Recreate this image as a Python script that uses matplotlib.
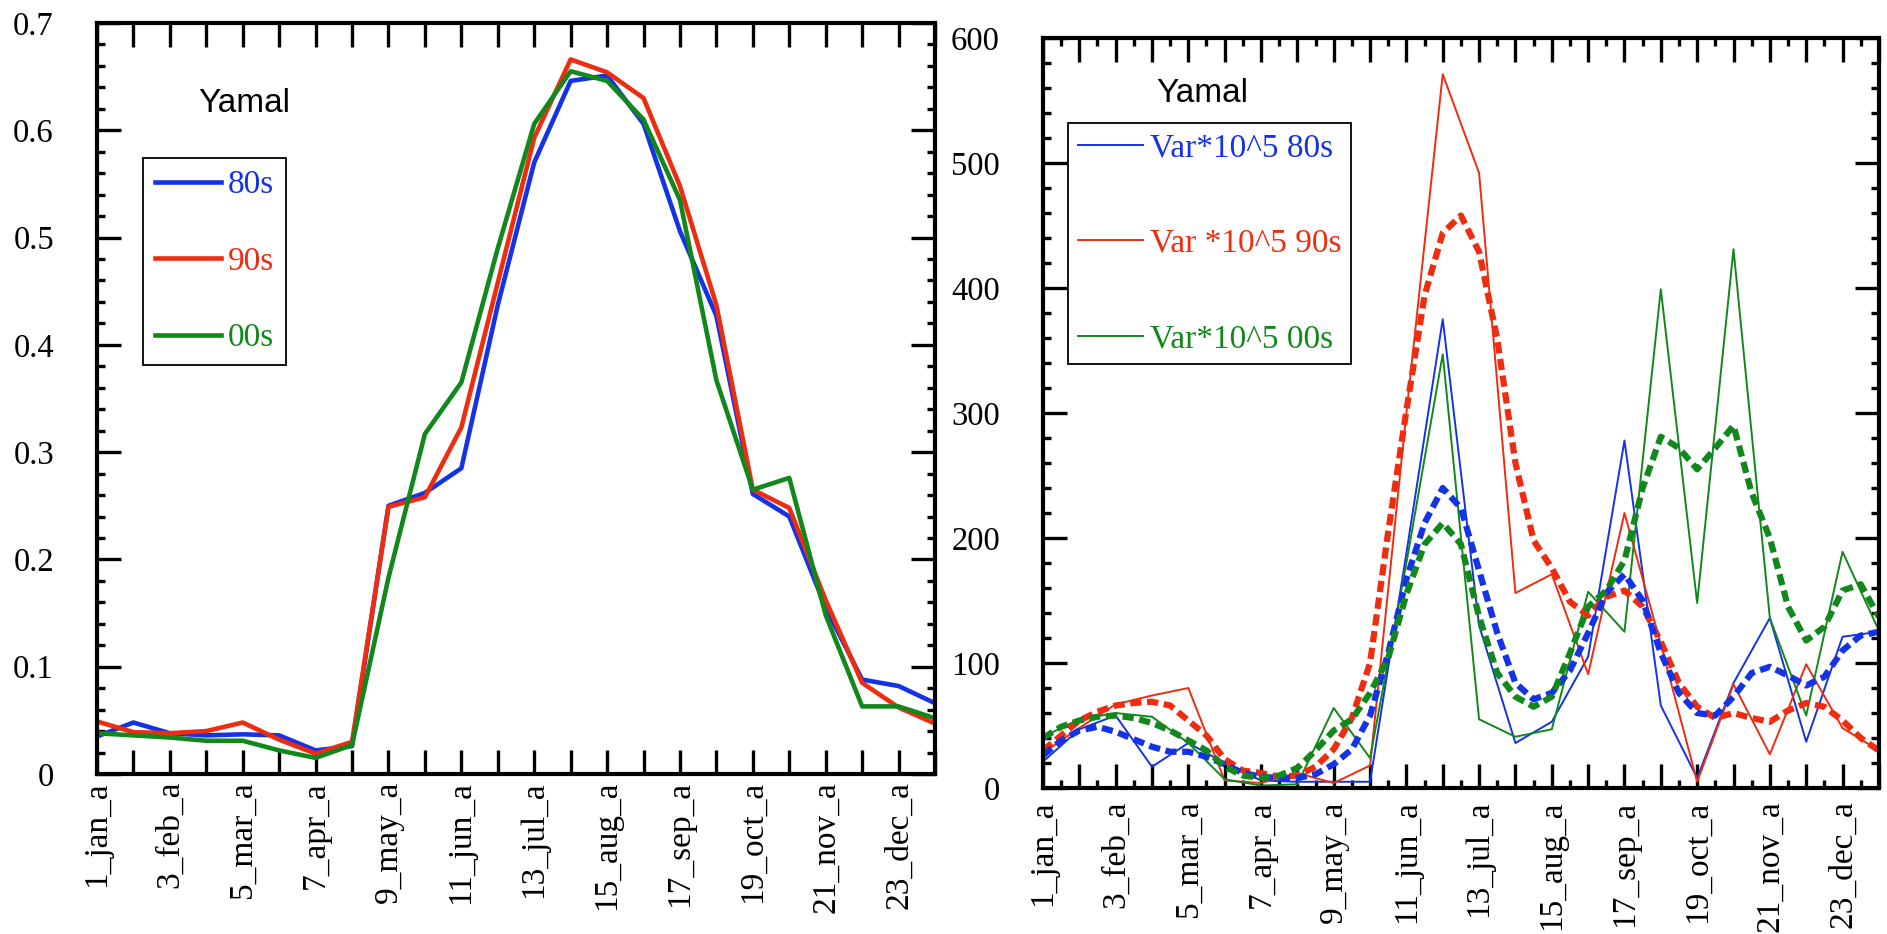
import numpy as np
import matplotlib.pyplot as plt
from matplotlib.ticker import MultipleLocator, FuncFormatter

# half-month steps (24 of them), only the odd ones get a label
steps = np.arange(1, 25)
step_labels = ['1_jan_a', '3_feb_a', '5_mar_a', '7_apr_a', '9_may_a', '11_jun_a',
               '13_jul_a', '15_aug_a', '17_sep_a', '19_oct_a', '21_nov_a', '23_dec_a']

# left panel: mean values per decade
mean_80s = [0.035, 0.048, 0.038, 0.036, 0.037, 0.036, 0.022, 0.026, 0.250, 0.262, 0.285, 0.437,
            0.570, 0.646, 0.651, 0.606, 0.506, 0.427, 0.261, 0.240, 0.155, 0.088, 0.082, 0.066]
mean_90s = [0.049, 0.039, 0.038, 0.040, 0.048, 0.032, 0.019, 0.030, 0.249, 0.258, 0.323, 0.458,
            0.593, 0.666, 0.654, 0.630, 0.548, 0.437, 0.265, 0.248, 0.162, 0.085, 0.062, 0.047]
mean_00s = [0.038, 0.036, 0.034, 0.031, 0.031, 0.022, 0.015, 0.027, 0.183, 0.317, 0.365, 0.490,
            0.606, 0.655, 0.646, 0.610, 0.535, 0.367, 0.265, 0.276, 0.148, 0.063, 0.063, 0.052]

# right panel: variance * 10^5
var_80s = [21, 47, 58, 17, 36, 20, 6, 5, 5, 5, 188, 375,
           130, 36, 53, 105, 278, 66, 8, 84, 136, 37, 121, 125]
var_90s = [28, 48, 67, 74, 80, 6, 4, 12, 4, 18, 300, 571,
           492, 156, 171, 91, 220, 115, 5, 83, 27, 99, 48, 30]
var_00s = [41, 55, 60, 57, 36, 7, 2, 3, 64, 24, 180, 347,
           55, 41, 47, 157, 125, 399, 148, 431, 136, 58, 189, 126]

smooth_steps = np.arange(1, 24.5, 0.5)
var_80s_smooth = [26, 38, 46, 49, 45, 39, 33, 29, 29, 25, 19, 12, 9, 8, 8, 11, 19, 31, 58, 108,
                  167, 212, 240, 224, 174, 124, 84, 71, 76, 94, 124, 156, 171, 150, 108, 76,
                  60, 58, 73, 92, 97, 90, 82, 89, 110, 122, 125]
var_90s_smooth = [30, 42, 54, 61, 66, 68, 69, 66, 54, 42, 23, 14, 12, 9, 10, 17, 31, 56, 100, 205,
                  302, 394, 444, 458, 429, 359, 260, 198, 176, 149, 138, 153, 158, 145, 117, 84,
                  65, 56, 60, 56, 53, 62, 68, 65, 54, 40, 30]
var_00s_smooth = [40, 49, 54, 57, 58, 56, 52, 46, 38, 30, 17, 10, 8, 10, 16, 30, 46, 55, 76, 104,
                  155, 195, 212, 195, 137, 92, 73, 65, 73, 108, 145, 158, 182, 240, 281, 272,
                  255, 272, 290, 236, 200, 145, 118, 129, 158, 163, 137]

blue, red, green = '#1432e6', '#ee2c10', '#12881c'

plt.rcParams['font.family'] = 'Liberation Serif'
plt.rcParams['font.size'] = 24

fig = plt.figure(figsize=(18.87, 9.34), dpi=100)
ax1 = fig.add_axes([0.0514, 0.1713, 0.4441, 0.8041])
ax2 = fig.add_axes([0.5527, 0.1563, 0.4430, 0.8030])


def style_axes(ax, ymax, ymajor, yminor, xminor, xpad):
    ax.set_xlim(1, 24)
    ax.set_ylim(0, ymax)
    ax.set_xticks(steps)
    ax.set_xticklabels([step_labels[(s - 1) // 2] if s % 2 else '' for s in steps],
                       rotation=90, fontsize=24)
    ax.yaxis.set_major_locator(MultipleLocator(ymajor))
    ax.yaxis.set_minor_locator(MultipleLocator(yminor))
    ax.yaxis.set_major_formatter(FuncFormatter(lambda v, _: f'{v:g}'))
    if xminor:
        ax.xaxis.set_minor_locator(MultipleLocator(0.5))
    ax.tick_params(which='both', direction='in', top=True, right=True, width=2.4)
    ax.tick_params(which='major', length=17)
    ax.tick_params(which='minor', length=6)
    ax.tick_params(axis='y', pad=31, labelsize=23.5)
    ax.tick_params(axis='x', pad=xpad)
    for sp in ax.spines.values():
        sp.set_linewidth(3)


# Left panel
ax1.plot(steps, mean_80s, color=blue, lw=3.3, label='80s')
ax1.plot(steps, mean_90s, color=red, lw=3.3, label='90s')
ax1.plot(steps, mean_00s, color=green, lw=3.3, label='00s')
style_axes(ax1, 0.7, 0.1, 0.02, False, 5)
ax1.text(0.1205, 0.8815, 'Yamal', transform=ax1.transAxes, family='Liberation Sans',
         ha='left', va='baseline')
leg1 = ax1.legend(loc='upper left', bbox_to_anchor=(0.0549, 0.820), borderaxespad=0,
                  handlelength=2.0, handletextpad=0.2, labelspacing=1.38, borderpad=0.35,
                  fancybox=False, edgecolor='black', framealpha=1, labelcolor='linecolor')
leg1.get_frame().set_linewidth(1.3)

# Right panel
h1, = ax2.plot(steps, var_80s, color=blue, lw=1.4, label='Var*10^5 80s')
h2, = ax2.plot(steps, var_90s, color=red, lw=1.4, label='Var *10^5 90s')
h3, = ax2.plot(steps, var_00s, color=green, lw=1.4, label='Var*10^5 00s')
dots = (0, (1.8, 0.9))
ax2.plot(smooth_steps, var_90s_smooth, color=red, lw=4.5, ls=dots)
ax2.plot(smooth_steps, var_80s_smooth, color=blue, lw=4.5, ls=dots)
ax2.plot(smooth_steps, var_00s_smooth, color=green, lw=4.5, ls=dots)
style_axes(ax2, 600, 100, 20, True, 9)
ax2.text(0.135, 0.9147, 'Yamal', transform=ax2.transAxes, family='Liberation Sans',
         ha='left', va='baseline')
leg2 = ax2.legend(handles=[h1, h2, h3], loc='upper left', bbox_to_anchor=(0.0299, 0.887),
                  borderaxespad=0, handlelength=1.95, handletextpad=0.2, labelspacing=1.95,
                  borderpad=0.3, fancybox=False, edgecolor='black', framealpha=1,
                  labelcolor='linecolor')
leg2.get_frame().set_linewidth(1.3)

fig.savefig('out.png', dpi=100)
